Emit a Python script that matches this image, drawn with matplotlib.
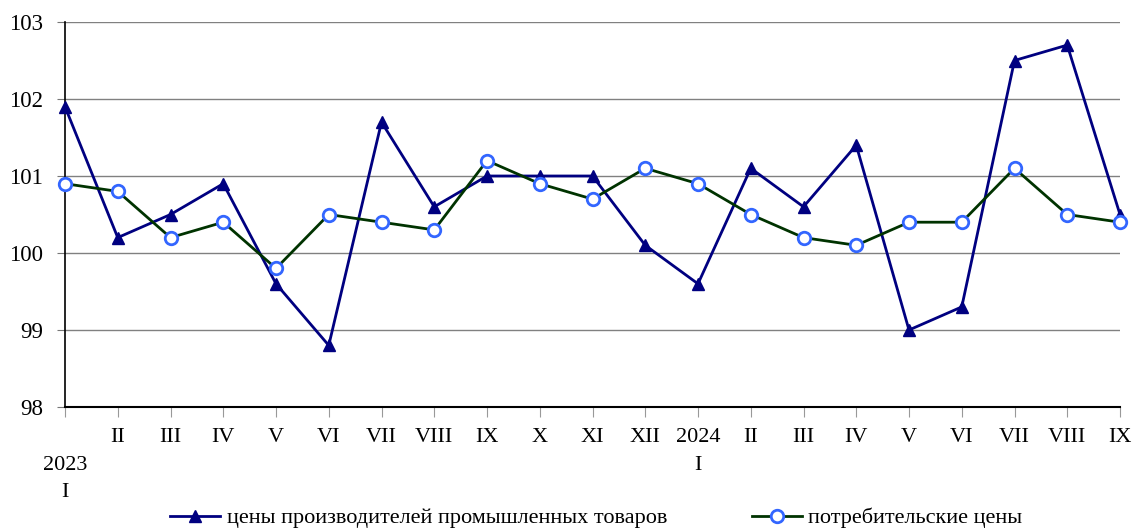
import matplotlib
matplotlib.use("Agg")
import matplotlib.pyplot as plt

categories = ["\n2023\nI", "II", "III", "IV", "V", "VI", "VII", "VIII", "IX", "X", "XI", "XII",
              "2024\nI", "II", "III", "IV", "V", "VI", "VII", "VIII", "IX"]
producer = [101.9, 100.2, 100.5, 100.9, 99.6, 98.8, 101.7, 100.6, 101.0, 101.0, 101.0, 100.1,
            99.6, 101.1, 100.6, 101.4, 99.0, 99.3, 102.5, 102.7, 100.5]
consumer = [100.9, 100.8, 100.2, 100.4, 99.8, 100.5, 100.4, 100.3, 101.2, 100.9, 100.7, 101.1,
            100.9, 100.5, 100.2, 100.1, 100.4, 100.4, 101.1, 100.5, 100.4]
yticks = [98, 99, 100, 101, 102, 103]
label_producer = "цены производителей промышленных товаров"
label_consumer = "потребительские цены"

plt.rcParams['font.family'] = ['Liberation Serif', 'DejaVu Serif']

fig = plt.figure(figsize=(11.34, 5.30), dpi=100)
ax = fig.add_axes([65/1134, 1-407/530, (1120-65)/1134, (407-22)/530])

x = list(range(len(categories)))
ax.plot(x, producer, color="#000080", lw=2, marker="^", ms=8, mfc="#000080", mec="#000080",
        label=label_producer, zorder=3, clip_on=False)
ax.plot(x, consumer, color="#003300", lw=2, marker="o", ms=9, mfc="white", mec="#3366ff",
        mew=2, label=label_consumer, zorder=4, clip_on=False)

ax.set_xlim(0, len(categories) - 1)
ax.set_ylim(98, 103)
ax.set_yticks(yticks)
ax.set_yticklabels([str(v) for v in yticks], fontsize=16.5)
ax.set_xticks(x)
ax.set_xticklabels(categories, fontsize=16, linespacing=1.62)
ax.tick_params(axis='x', direction='out', length=7, color='#999999', pad=8)
ax.tick_params(axis='y', direction='out', length=6, color='#777777', pad=10)
ax.grid(axis='y', color='#808080', lw=1)
ax.set_axisbelow(True)
for s in ['top', 'right']:
    ax.spines[s].set_visible(False)
ax.spines['left'].set_color('black')
ax.spines['bottom'].set_color('black')
ax.spines['left'].set_linewidth(1.2)
ax.spines['bottom'].set_linewidth(1.5)

leg = fig.legend(loc='center', bbox_to_anchor=(0.526, 1-518/530), ncol=2, frameon=False,
                 fontsize=16, handlelength=2.25, handletextpad=0.3, columnspacing=3.8,
                 borderpad=0, borderaxespad=0)

fig.savefig("out.png", dpi=100)
